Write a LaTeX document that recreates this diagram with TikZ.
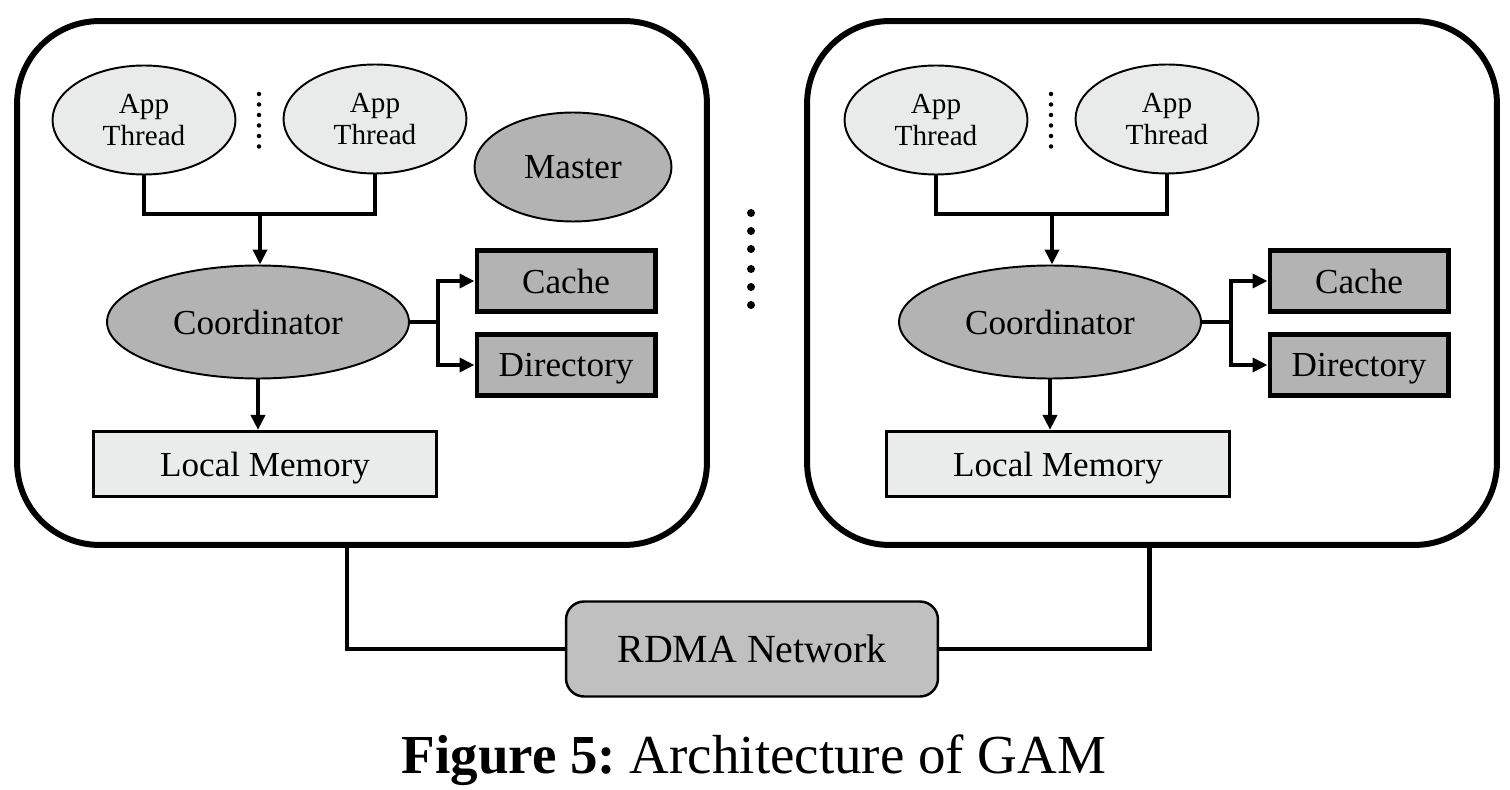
\documentclass[tikz,border=0pt]{standalone}
\usepackage{fontspec}
\setmainfont{Liberation Serif}
\usetikzlibrary{shapes.geometric,arrows.meta,calc}

\definecolor{threadfill}{RGB}{233,235,234}
\definecolor{darkfill}{RGB}{179,179,179}
\definecolor{memfill}{RGB}{234,236,235}
\definecolor{netfill}{RGB}{192,192,192}

\begin{document}
\begin{tikzpicture}[x=0.02cm,y=-0.02cm,
  machine/.style={draw,line width=3.4pt,rounded corners=1.65cm,
    minimum width=13.8cm,minimum height=10.48cm,inner sep=0},
  thread/.style={ellipse,draw,line width=1.1pt,fill=threadfill,
    minimum width=3.66cm,minimum height=2.18cm,inner sep=0,align=center,
    font=\fontsize{16.6}{18}\selectfont},
  master/.style={ellipse,draw,line width=1.1pt,fill=darkfill,
    minimum width=3.94cm,minimum height=2.18cm,inner sep=0,
    font=\fontsize{20}{24}\selectfont},
  coordinator/.style={ellipse,draw,line width=1.1pt,fill=darkfill,
    minimum width=6.04cm,minimum height=2.26cm,inner sep=0,
    font=\fontsize{20}{24}\selectfont},
  store/.style={draw,line width=2.3pt,fill=darkfill,
    minimum width=3.58cm,minimum height=1.22cm,inner sep=0,
    text depth=0pt,font=\fontsize{20}{24}\selectfont},
  memory/.style={draw,line width=1.8pt,fill=memfill,
    minimum width=6.86cm,minimum height=1.3cm,inner sep=0,
    text depth=0pt,font=\fontsize{20}{24}\selectfont},
  network/.style={draw,line width=1.4pt,fill=netfill,rounded corners=0.36cm,
    minimum width=7.44cm,minimum height=1.9cm,inner sep=0,
    font=\fontsize{22.7}{26}\selectfont},
  link/.style={line width=2.3pt},
  arrow/.style={link,-{Triangle[length=0.3cm,width=0.28cm]}},
]
\useasboundingbox (0,0) rectangle (1510,790);

% two machines
\node[machine] (mA) at (362,283) {};
\node[machine] (mB) at (1152,283) {};

% ---- left machine ----
\node[thread] (at1) at (144,120) {App\\Thread};
\node[thread] (at2) at (375,119) {App\\Thread};
\node[master] (master) at (573,167) {Master};
\node[coordinator] (coord) at (258,322) {Coordinator};
\node[store] (cache) at (566,281) {Cache};
\node[store] (dir) at (566,365) {Directory};
\node[memory] (lmem) at (265,464) {Local Memory};
\coordinate (j1) at (260,214);
\coordinate (j2) at (438,322);

\foreach \yy in {94,104.5,115,125.5,136,146.5}
  \fill (259,\yy) circle[radius=0.045cm];

\draw[link] (at1.south) -- (at1.south |- j1) -| (at2.south);
\draw[arrow] (j1) -- (j1 |- coord.north);
\draw[link] (coord.east) -- (j2);
\draw[arrow] (j2) |- (cache.west);
\draw[arrow] (j2) |- (dir.west);
\draw[arrow] (coord.south) -- (coord.south |- lmem.north);

% ---- right machine ----
\node[thread] (bt1) at (936,120) {App\\Thread};
\node[thread] (bt2) at (1167,119) {App\\Thread};
\node[coordinator] (bcoord) at (1050,322) {Coordinator};
\node[store] (bcache) at (1359,281) {Cache};
\node[store] (bdir) at (1359,365) {Directory};
\node[memory] (bmem) at (1058,464) {Local Memory};
\coordinate (k1) at (1052,214);
\coordinate (k2) at (1231,322);

\foreach \yy in {94,104.5,115,125.5,136,146.5}
  \fill (1051,\yy) circle[radius=0.045cm];

\draw[link] (bt1.south) -- (bt1.south |- k1) -| (bt2.south);
\draw[arrow] (k1) -- (k1 |- bcoord.north);
\draw[link] (bcoord.east) -- (k2);
\draw[arrow] (k2) |- (bcache.west);
\draw[arrow] (k2) |- (bdir.west);
\draw[arrow] (bcoord.south) -- (bcoord.south |- bmem.north);

% ellipsis between machines
\foreach \yy in {213,231,249,269,287,305}
  \fill (751,\yy) circle[radius=0.08cm];

% network
\node[network] (net) at (752,649) {RDMA Network};
\draw[link] (net.west) -| ([xshift=-0.3cm]mA.south);
\draw[link] (net.east) -| ([xshift=-0.05cm]mB.south);

% caption
\node[font=\fontsize{31.3}{36}\selectfont] (cap) at (754,760)
  {\textbf{Figure 5:}\hspace{0.25em}Architecture of GAM};
\end{tikzpicture}
\end{document}
